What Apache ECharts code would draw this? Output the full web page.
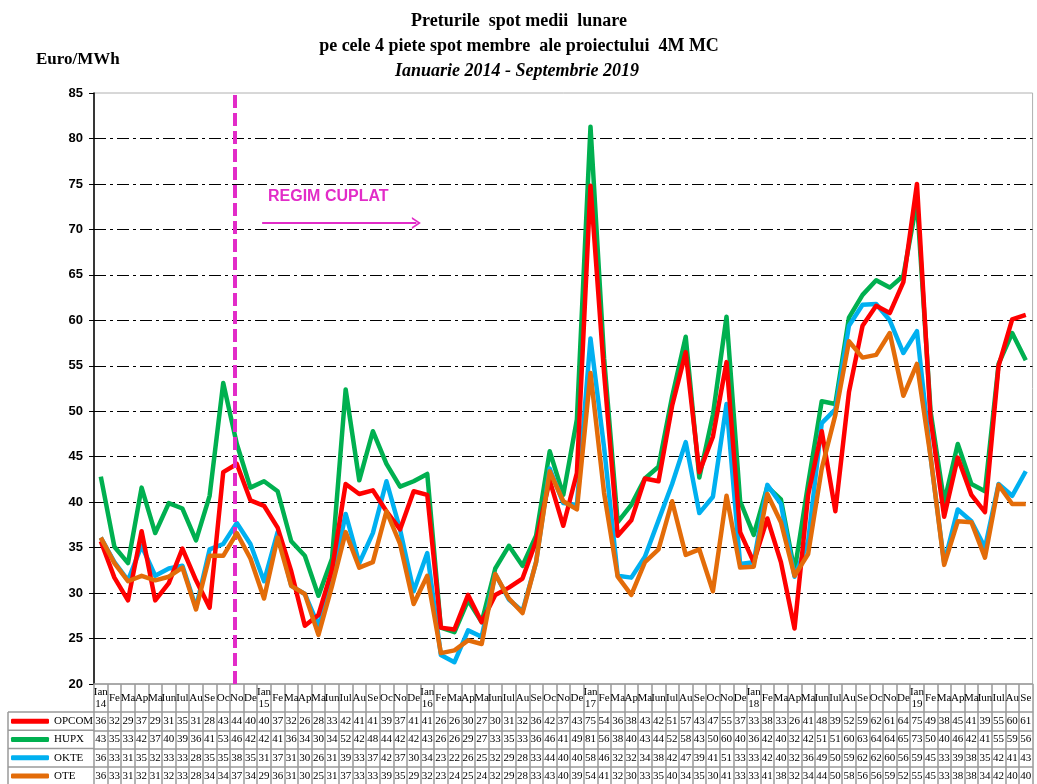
<!DOCTYPE html>
<html><head><meta charset="utf-8">
<script src="https://cdn.jsdelivr.net/npm/echarts@6/dist/echarts.min.js"></script>
<style>html,body{margin:0;padding:0;background:#fff}#c{width:1037px;height:784px}</style>
</head><body><div id="c"></div>
<script>
// ---------- DATA ----------
const monthNames = ['Ian','Feb','Mar','Apr','Mai','Iun','Iul','Aug','Sep','Oct','Nov','Dec'];
const years = ['14','15','16','17','18','19'];
const monthCount = 69;

const opcom = [35.7,31.7,29.2,36.8,29.2,31.1,34.9,31.4,28.4,43.3,44.2,40.2,
  39.6,37.2,32.4,26.4,27.6,32.6,42.0,40.9,41.3,39.0,37.0,41.2,
  40.8,26.2,26.0,29.8,26.8,29.8,30.6,31.6,35.7,42.4,37.4,43.2,
  74.8,54.2,36.3,38.0,42.6,42.3,50.6,56.5,43.3,47.2,55.4,36.7,
  33.4,38.2,33.4,26.1,40.8,47.8,39.0,52.1,59.4,61.6,60.8,64.2,
  75.0,49.2,38.4,44.9,40.8,38.9,55.0,60.1,60.6];
const hupx = [42.8,35.1,33.3,41.6,36.6,39.9,39.3,35.8,40.7,53.1,46.4,41.6,
  42.3,41.2,35.7,34.1,29.7,33.8,52.4,42.4,47.8,44.2,41.7,42.3,
  43.1,26.2,25.7,29.2,26.8,32.7,35.2,33.0,36.3,45.6,40.8,49.1,
  81.3,55.8,37.8,39.7,42.6,43.9,51.6,58.2,42.7,49.6,60.4,40.1,
  36.4,41.7,40.3,32.4,42.0,51.1,50.8,60.3,62.8,64.4,63.6,64.9,
  73.1,50.0,40.0,46.4,42.0,41.2,55.2,58.6,55.6];
const okte = [36.1,33.4,31.4,35.2,31.9,32.7,33.0,28.4,34.8,35.4,37.7,35.4,
  31.3,36.7,30.8,29.9,26.4,31.4,38.7,33.3,36.6,42.3,37.0,30.2,
  34.4,23.2,22.4,25.9,25.2,32.1,29.3,28.0,33.4,43.7,39.9,39.7,
  58.0,46.0,31.9,31.7,34.0,38.0,42.0,46.6,38.8,40.6,50.8,33.2,
  33.4,41.9,39.8,31.8,35.7,48.7,50.2,59.4,61.7,61.8,60.0,56.4,
  58.8,45.0,33.3,39.2,37.9,35.0,42.0,40.7,43.4];
const ote = [36.1,33.3,31.3,31.9,31.4,31.8,32.8,28.2,34.1,34.1,36.6,33.8,
  29.4,36.1,30.8,29.9,25.4,30.8,36.7,32.8,33.4,39.0,35.4,28.8,
  31.9,23.4,23.7,24.8,24.4,32.1,29.4,27.8,33.4,43.4,40.1,39.2,
  54.2,41.0,31.8,29.8,33.4,34.8,40.1,34.2,34.8,30.2,40.7,32.8,
  32.9,40.9,37.8,31.9,34.3,43.7,49.6,57.7,55.9,56.2,58.6,51.7,
  55.2,45.0,33.1,37.9,37.8,33.9,41.9,39.8,39.8];

// data table texts (as printed under the chart)
const opcomTable = [36,32,29,37,29,31,35,31,28,43,44,40, 40,37,32,26,28,33,42,41,41,39,37,41, 41,26,26,30,27,30,31,32,36,42,37,43, 75,54,36,38,43,42,51,57,43,47,55,37, 33,38,33,26,41,48,39,52,59,62,61,64, 75,49,38,45,41,39,55,60,61];
const hupxTable = [43,35,33,42,37,40,39,36,41,53,46,42, 42,41,36,34,30,34,52,42,48,44,42,42, 43,26,26,29,27,33,35,33,36,46,41,49, 81,56,38,40,43,44,52,58,43,50,60,40, 36,42,40,32,42,51,51,60,63,64,64,65, 73,50,40,46,42,41,55,59,56];
const okteTable = [36,33,31,35,32,33,33,28,35,35,38,35, 31,37,31,30,26,31,39,33,37,42,37,30, 34,23,22,26,25,32,29,28,33,44,40,40, 58,46,32,32,34,38,42,47,39,41,51,33, 33,42,40,32,36,49,50,59,62,62,60,56, 59,45,33,39,38,35,42,41,43];
const oteTable = [36,33,31,32,31,32,33,28,34,34,37,34, 29,36,31,30,25,31,37,33,33,39,35,29, 32,23,24,25,24,32,29,28,33,43,40,39, 54,41,32,30,33,35,40,34,35,30,41,33, 33,41,38,32,34,44,50,58,56,56,59,52, 55,45,33,38,38,34,42,40,40];

const yTicks = {min: 20, max: 85, interval: 5};
const couplingAt = 10.35;          // start of coupled regime (month index units)
const arrowFrom = [12.36, 70.7], arrowTo = [23.7, 70.7];

// ---------- BUILD ----------
const months = [];
for (let i = 0; i < monthCount; i++) {
  const m = i % 12, y = Math.floor(i / 12);
  months.push(m === 0 ? monthNames[m] + '\n' + years[y] : monthNames[m]);
}

const serif = '"Liberation Serif","Times New Roman",serif';
const sans = '"Liberation Sans",Arial,sans-serif';
const grey = '#9a9a9a';
const mag = '#E22CC8';
const HEAD = 28, ROW = 18.3;
const GRID_BOTTOM_Y = 684;

const colors = {OPCOM: '#FF0000', HUPX: '#00B050', OKTE: '#00B0F0', OTE: '#E36C09'};
const rows = [['OPCOM', opcomTable], ['HUPX', hupxTable], ['OKTE', okteTable], ['OTE', oteTable]];

const xAxes = [{
  type: 'category', data: months, position: 'bottom', boundaryGap: true,
  axisLine: {lineStyle: {color: grey, width: 1.5}},
  axisTick: {show: true, interval: 0, length: HEAD, lineStyle: {color: grey, width: 1.5}},
  axisLabel: {interval: 0, margin: 14, verticalAlign: 'middle', fontFamily: serif, fontSize: 11,
    color: '#000', lineHeight: 12, width: 16.5, overflow: 'truncate', ellipsis: ''},
  splitLine: {show: false}
}];
rows.forEach((r, i) => {
  const vals = r[1];
  xAxes.push({
    type: 'category', data: months, position: 'bottom', offset: HEAD + i * ROW, boundaryGap: true,
    axisLine: {lineStyle: {color: grey, width: 1.5}},
    axisTick: {show: true, interval: 0, length: ROW, lineStyle: {color: grey, width: 1.5}},
    axisLabel: {interval: 0, margin: ROW / 2, verticalAlign: 'middle', fontFamily: serif, fontSize: 11,
      color: '#000', formatter: (v, idx) => String(vals[idx])},
    splitLine: {show: false}
  });
});
xAxes.push({type: 'value', min: 0, max: monthCount, show: false});
const valueAxisIndex = xAxes.length - 1;

function lineSeries(name, data, z) {
  return {name, type: 'line', data, symbol: 'none', z,
    lineStyle: {width: 4.5, color: colors[name], join: 'round'}, itemStyle: {color: colors[name]}};
}

const legends = rows.map((r, i) => ({
  data: [r[0]], orient: 'vertical', left: 11, top: GRID_BOTTOM_Y + HEAD + i * ROW + 1,
  padding: 0, itemWidth: 38, itemHeight: 5, icon: 'roundRect', selectedMode: false,
  textStyle: {fontFamily: serif, fontSize: 11, color: '#000', lineHeight: ROW - 2}
}));

const graphics = [
  {type: 'line', shape: {x1: 8, y1: GRID_BOTTOM_Y + HEAD, x2: 8, y2: 790}, style: {stroke: grey, lineWidth: 1.5}},
  {type: 'text', left: 268, top: 189, style: {text: 'REGIM CUPLAT', fill: mag, font: 'bold 16px ' + sans}}
];
for (let i = 0; i <= 4; i++) {
  const y = GRID_BOTTOM_Y + HEAD + i * ROW;
  graphics.push({type: 'line', shape: {x1: 8, y1: y, x2: 94, y2: y}, style: {stroke: grey, lineWidth: 1.5}});
}

const option = {
  animation: false,
  backgroundColor: '#fff',
  title: [
    {text: 'Preturile  spot medii  lunare', left: 514, textAlign: 'center', top: 7,
      textStyle: {fontFamily: serif, fontSize: 18, fontWeight: 'bold', color: '#000'}},
    {text: 'pe cele 4 piete spot membre  ale proiectului  4M MC', left: 514, textAlign: 'center', top: 32,
      textStyle: {fontFamily: serif, fontSize: 18, fontWeight: 'bold', color: '#000'}},
    {text: 'Ianuarie 2014 - Septembrie 2019', left: 512, textAlign: 'center', top: 57,
      textStyle: {fontFamily: serif, fontSize: 18, fontWeight: 'bold', fontStyle: 'italic', color: '#000'}},
    {text: 'Euro/MWh', left: 31, top: 46,
      textStyle: {fontFamily: serif, fontSize: 17, fontWeight: 'bold', color: '#000'}}
  ],
  grid: {left: 94, right: 0, top: 93, bottom: 784 - GRID_BOTTOM_Y, show: true,
    borderColor: '#b0b0b0', borderWidth: 1, backgroundColor: 'transparent'},
  legend: legends,
  xAxis: xAxes,
  yAxis: {type: 'value', min: yTicks.min, max: yTicks.max, interval: yTicks.interval,
    axisLine: {show: true, lineStyle: {color: '#000', width: 1.5}},
    axisTick: {show: true, length: 5, lineStyle: {color: '#000'}},
    axisLabel: {margin: 11, fontFamily: sans, fontWeight: 'bold', fontSize: 13, color: '#000'},
    splitLine: {show: true, showMinLine: false, showMaxLine: false,
      lineStyle: {color: '#000', width: 1, type: [12, 4, 3, 4]}}},
  graphic: graphics,
  series: [
    lineSeries('HUPX', hupx, 2),
    lineSeries('OKTE', okte, 3),
    lineSeries('OPCOM', opcom, 4),
    lineSeries('OTE', ote, 5),
    {type: 'line', xAxisIndex: valueAxisIndex, data: [], silent: true, z: 6,
      markLine: {silent: true, animation: false, symbol: 'none', label: {show: false},
        data: [
          [{coord: [couplingAt, yTicks.min], lineStyle: {color: mag, width: 4, type: [13, 5]}},
           {coord: [couplingAt, yTicks.max]}],
          [{coord: arrowFrom, symbol: 'none', lineStyle: {color: mag, width: 2, type: 'solid'}},
           {coord: arrowTo, symbol: 'path://M0,10 L5,0 L10,10 L8.4,10 L5,3.2 L1.6,10 Z', symbolSize: [12, 9]}]
        ]}}
  ]
};

const chart = echarts.init(document.getElementById('c'), null, {renderer: 'canvas'});
chart.setOption(option);
</script>
</body></html>
